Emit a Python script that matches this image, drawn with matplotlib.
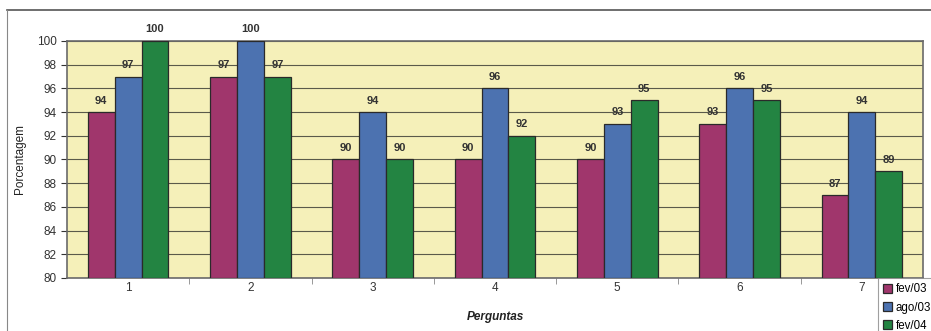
import matplotlib
matplotlib.use("Agg")
import matplotlib.pyplot as plt
from matplotlib.lines import Line2D
import numpy as np

categories = ["1", "2", "3", "4", "5", "6", "7"]
series_names = ["fev/03", "ago/03", "fev/04"]
fev03 = [94, 97, 90, 90, 90, 93, 87]
ago03 = [97, 100, 94, 96, 93, 96, 94]
fev04 = [100, 97, 90, 92, 95, 95, 89]
colors = ["#A0366C", "#4C72B0", "#238442"]

plt.rcParams['font.family'] = ['Liberation Sans', 'DejaVu Sans']

fig = plt.figure(figsize=(9.31, 3.31), dpi=100)
ax = fig.add_axes([67/931, 1-278/331, (923-67)/931, (278-41)/331])
ax.set_facecolor("#F5F0B9")

x = np.arange(len(categories)) + 1
w = 0.22
for i, (vals, name, c) in enumerate(zip([fev03, ago03, fev04], series_names, colors)):
    ax.bar(x + (i-1)*w, [v-80 for v in vals], w, bottom=80, color=c,
           edgecolor="#2a2a2a", linewidth=0.9, label=name, zorder=3)
    for xi, v in zip(x + (i-1)*w, vals):
        ax.text(xi, v + 0.55, str(v), ha="center", va="bottom", fontsize=8,
                fontweight="bold", color="#333333", zorder=4, clip_on=False)

ax.set_ylim(80, 100)
ax.set_xlim(0.5, 7.5)
ax.set_yticks(np.arange(80, 101, 2))
ax.yaxis.grid(True, color="#5a5a4a", linewidth=0.8, zorder=1)
ax.set_xticks(x)
ax.set_xticklabels(categories)
ax.set_xticks(np.arange(1.5, 7.5, 1), minor=True)
ax.tick_params(axis="x", which="major", length=0, pad=3, labelsize=8.5, colors="#333333")
ax.tick_params(axis="x", which="minor", length=4, direction="out", color="#888888")
ax.tick_params(axis="y", length=4, labelsize=8.5, colors="#333333")
for s in ax.spines.values():
    s.set_color("#6a6a6a")
    s.set_linewidth(1.2)
ax.set_ylabel("Porcentagem", fontsize=8.5, color="#222222", labelpad=8)
ax.set_xlabel("Perguntas", fontsize=8.5, fontstyle="italic", fontweight="bold",
              color="#222222", labelpad=12)

leg = fig.legend(loc="upper left", bbox_to_anchor=(878/931, 1-278/331),
                 fontsize=8.3, frameon=True, fancybox=False, handlelength=0.8,
                 handleheight=0.8, handletextpad=0.3, borderpad=0.45,
                 labelspacing=0.55, borderaxespad=0)
leg.get_frame().set_edgecolor("#888888")
leg.get_frame().set_linewidth(0.8)

fig.add_artist(Line2D([7/931, 1], [1-10/331, 1-10/331], color="#555555", linewidth=1.2))
fig.add_artist(Line2D([7/931, 7/931], [0, 1-10/331], color="#888888", linewidth=0.8))

fig.savefig("out.png", dpi=100)
